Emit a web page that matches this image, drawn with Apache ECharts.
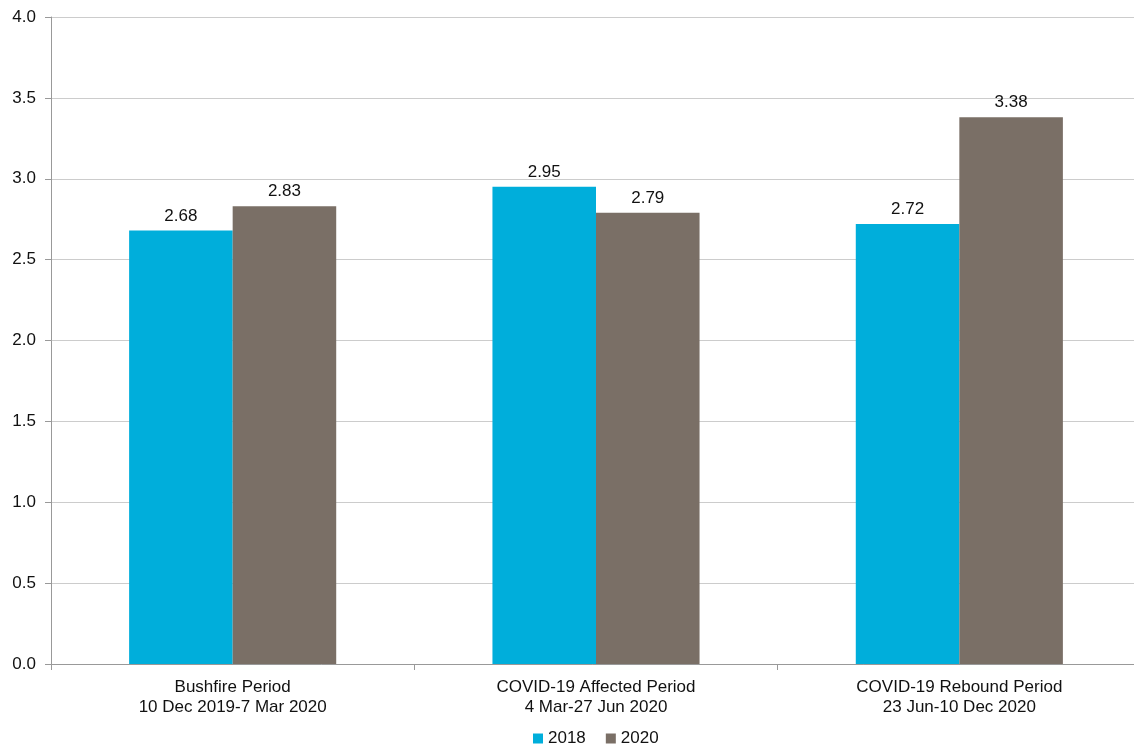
<!DOCTYPE html>
<html>
<head>
<meta charset="utf-8">
<script src="https://cdn.jsdelivr.net/npm/echarts@6/dist/echarts.min.js"></script>
<style>
html,body{margin:0;padding:0;background:#fff;}
#chart{width:1134px;height:745px;}
</style>
</head>
<body>
<div id="chart"></div>
<script>
// Periods compared across the two years
const categories = [
  'Bushfire Period\n10 Dec 2019-7 Mar 2020',
  'COVID-19 Affected Period\n4 Mar-27 Jun 2020',
  'COVID-19 Rebound Period\n23 Jun-10 Dec 2020'
];
const values2018 = [2.68, 2.95, 2.72];
const values2020 = [2.83, 2.79, 3.38];
const yTicks = { min: 0, max: 4, interval: 0.5 };

const font = '"Liberation Sans", Arial, sans-serif';

const chart = echarts.init(document.getElementById('chart'), null, { renderer: 'canvas' });

const label = {
  show: true,
  position: 'top',
  distance: 6,
  color: '#111',
  fontSize: 17,
  fontFamily: font,
  formatter: p => p.value.toFixed(2)
};

chart.setOption({
  animation: false,
  backgroundColor: '#fff',
  // plot area runs slightly past the right edge of the canvas
  grid: {
    left: 51, width: 1090, top: 17, height: 647,
    containLabel: false, outerBoundsMode: 'none'
  },
  legend: {
    top: 725,
    left: 528,
    itemWidth: 10,
    itemHeight: 10,
    itemGap: 20,
    icon: 'rect',
    textStyle: { fontSize: 17, fontFamily: font, color: '#111' },
    data: ['2018', '2020']
  },
  xAxis: {
    type: 'category',
    data: categories,
    axisLine: { lineStyle: { color: '#999', width: 1 } },
    axisTick: { show: true, length: 6, lineStyle: { color: '#999' } },
    axisLabel: {
      fontSize: 17, fontFamily: font, color: '#111', margin: 13, lineHeight: 20
    }
  },
  yAxis: {
    type: 'value',
    min: yTicks.min,
    max: yTicks.max,
    interval: yTicks.interval,
    axisLine: { show: true, lineStyle: { color: '#999', width: 1 } },
    axisTick: { show: true, length: 6, lineStyle: { color: '#999' } },
    splitLine: { lineStyle: { color: '#cccccc', width: 1 } },
    axisLabel: {
      fontSize: 17, fontFamily: font, color: '#111', margin: 15,
      formatter: v => v.toFixed(1)
    }
  },
  series: [
    {
      name: '2018', type: 'bar', data: values2018,
      itemStyle: { color: '#00AEDB' },
      barGap: '0%', barCategoryGap: '43%',
      label
    },
    {
      name: '2020', type: 'bar', data: values2020,
      itemStyle: { color: '#7A6F66' },
      barGap: '0%', barCategoryGap: '43%',
      label
    }
  ]
});
</script>
</body>
</html>
